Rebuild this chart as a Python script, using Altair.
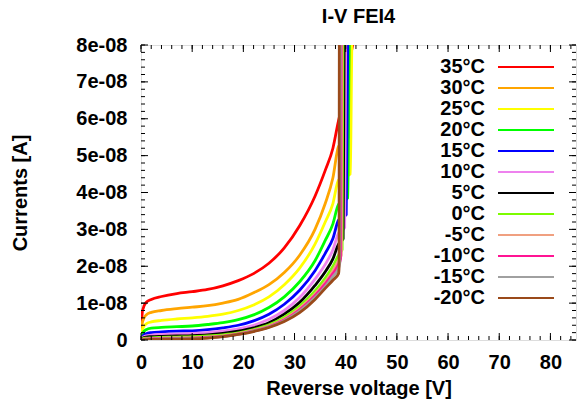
import altair as alt
import pandas as pd

# ---------------- data ----------------
temps = ["35°C", "30°C", "25°C", "20°C", "15°C", "10°C", "5°C", "0°C",
         "-5°C", "-10°C", "-15°C", "-20°C"]
colors = ["#ff0000", "#ffa500", "#ffff00", "#00ff00", "#0000ff", "#ee82ee",
          "#000000", "#7cfc00", "#f0a080", "#ff1493", "#a0a0a0", "#9a4a1a"]

# reverse voltage sweep below breakdown [V]
voltages = [0, 0.3, 1, 2, 4, 7, 10, 13, 16, 19, 22, 25, 28, 31, 34, 36, 37.5, 38.6]

# currents in units of 1e-8 A, one list per temperature
i_35 = [0.05, 0.80, 1.02, 1.10, 1.18, 1.26, 1.31, 1.37, 1.47, 1.61, 1.80, 2.08, 2.50, 3.10, 3.90, 4.60, 5.20, 5.95]
i_30 = [0.05, 0.50, 0.68, 0.75, 0.80, 0.85, 0.89, 0.93, 1.00, 1.10, 1.28, 1.50, 1.83, 2.30, 3.00, 3.70, 4.40, 5.25]
i_25 = [0.03, 0.30, 0.44, 0.49, 0.53, 0.57, 0.60, 0.64, 0.70, 0.80, 0.95, 1.17, 1.50, 1.95, 2.60, 3.20, 3.70, 4.34]
i_20 = [0.02, 0.18, 0.28, 0.32, 0.34, 0.36, 0.38, 0.42, 0.47, 0.55, 0.68, 0.88, 1.17, 1.58, 2.15, 2.70, 3.15, 3.68]
i_15 = [0.02, 0.10, 0.17, 0.20, 0.22, 0.24, 0.25, 0.28, 0.33, 0.40, 0.52, 0.70, 0.97, 1.35, 1.88, 2.35, 2.75, 3.25]
i_10 = [0.01, 0.07, 0.11, 0.13, 0.15, 0.16, 0.18, 0.20, 0.24, 0.30, 0.40, 0.56, 0.80, 1.15, 1.65, 2.05, 2.45, 2.90]
i_5 = [0.01, 0.05, 0.08, 0.09, 0.10, 0.11, 0.12, 0.14, 0.18, 0.24, 0.33, 0.47, 0.70, 1.02, 1.48, 1.85, 2.20, 2.60]
i_0 = [0.01, 0.03, 0.05, 0.06, 0.07, 0.08, 0.09, 0.11, 0.14, 0.19, 0.28, 0.41, 0.62, 0.92, 1.33, 1.68, 2.00, 2.30]
i_m5 = [0.00, 0.02, 0.03, 0.04, 0.05, 0.055, 0.06, 0.08, 0.11, 0.17, 0.26, 0.38, 0.57, 0.86, 1.25, 1.58, 1.88, 2.15]
i_m10 = [0.00, 0.015, 0.025, 0.03, 0.04, 0.045, 0.05, 0.07, 0.10, 0.16, 0.25, 0.36, 0.54, 0.82, 1.20, 1.52, 1.80, 2.05]
i_m15 = [0.00, 0.01, 0.02, 0.025, 0.03, 0.035, 0.04, 0.06, 0.09, 0.15, 0.24, 0.35, 0.52, 0.78, 1.15, 1.45, 1.72, 1.95]
i_m20 = [0.00, 0.005, 0.01, 0.015, 0.02, 0.025, 0.03, 0.05, 0.09, 0.15, 0.23, 0.34, 0.50, 0.74, 1.10, 1.40, 1.62, 1.80]
currents = [i_35, i_30, i_25, i_20, i_15, i_10, i_5, i_0, i_m5, i_m10, i_m15, i_m20]

# breakdown points after the knee: voltages [V] and currents (1e-8 A), per curve
bd_v = [[39.4, 40.8, 42.3], [40.6, 41.0, 41.8], [40.9, 41.2, 41.5], [40.4, 40.7, 41.0],
        [40.1, 40.4, 40.7], [39.8, 40.0, 40.3], [39.5, 39.7, 39.9], [39.3, 39.45, 39.6],
        [39.15, 39.25, 39.4], [39.0, 39.1, 39.2], [38.85, 38.95, 39.05], [38.7, 38.75, 38.85]]
bd_i = [[6.4, 7.6, 8.6], [5.5, 7.8, 9.0], [4.5, 8.0, 9.0], [3.85, 8.0, 9.0],
        [3.4, 8.0, 9.0], [3.05, 8.0, 9.0], [2.75, 8.0, 9.0], [2.45, 8.0, 9.0],
        [2.3, 8.0, 9.0], [2.2, 8.0, 9.0], [2.1, 8.0, 9.0], [1.95, 8.0, 9.0]]

x_major = [0, 10, 20, 30, 40, 50, 60, 70, 80]
x_minor = [0, 2, 4, 6, 8, 10, 12, 14, 16, 18, 20, 22, 24, 26, 28, 30, 32, 34, 36, 38, 40,
           42, 44, 46, 48, 50, 52, 54, 56, 58, 60, 62, 64, 66, 68, 70, 72, 74, 76, 78, 80, 82, 84]
y_major_e8 = [0, 1, 2, 3, 4, 5, 6, 7, 8]
y_minor_e8 = [k / 5 for k in range(0, 41)]

# ---------------- tables ----------------
rows = []
for t, cur, bv, bi in zip(temps, currents, bd_v, bd_i):
    k = 0
    for v, i in list(zip(voltages, cur)) + list(zip(bv, bi)):
        rows.append({"V": v, "I": i * 1e-8, "T": t, "k": k})
        k += 1
df = pd.DataFrame(rows)
leg = pd.DataFrame({"T": temps})

W, H = 435, 295
FONT = "Liberation Sans"

xs = alt.Scale(domain=[0, 85], nice=False, zero=False)
ys = alt.Scale(domain=[0, 8e-8], nice=False)
cs = alt.Scale(domain=temps, range=colors)

x_axis = alt.Axis(
    values=x_major, title="Reverse voltage [V]", grid=False, ticks=False, tickSize=0,
    domain=False, labelFont=FONT, labelFontSize=20, labelFontWeight="bold",
    labelColor="black", labelPadding=12, labelFlush=False,
    titleFont=FONT, titleFontSize=20, titleFontWeight="bold", titleColor="black",
    titleX=W / 2, titleY=48, titleBaseline="middle", titleAlign="center")
y_axis = alt.Axis(
    values=[v * 1e-8 for v in y_major_e8], title="Currents [A]", grid=False,
    ticks=False, tickSize=0, domain=False,
    labelExpr="datum.value == 0 ? '0' : round(datum.value * 1e8) + 'e-08'",
    labelFont=FONT, labelFontSize=20, labelFontWeight="bold", labelColor="black",
    labelPadding=14, labelFlush=False,
    titleFont=FONT, titleFontSize=20, titleFontWeight="bold", titleColor="black",
    titleX=-121, titleY=H / 2, titleAngle=270, titleBaseline="middle",
    titleAlign="center")

lines = alt.Chart(df).mark_line(clip=True, strokeWidth=2.8, interpolate="monotone").encode(
    x=alt.X("V:Q", scale=xs, axis=x_axis),
    y=alt.Y("I:Q", scale=ys, axis=y_axis),
    color=alt.Color("T:N", scale=cs, sort=temps, legend=None),
    order="k:Q",
)


def tick_layer(vals, chan, length, side):
    d = pd.DataFrame({chan: vals})
    if chan == "V":
        enc = {"x": alt.X("V:Q", scale=xs, axis=x_axis)}
        if side == "bottom":
            enc.update(y=alt.value(H), y2=alt.value(H - length))
        else:
            enc.update(y=alt.value(0), y2=alt.value(length))
    else:
        enc = {"y": alt.Y("I:Q", scale=ys, axis=y_axis)}
        if side == "left":
            enc.update(x=alt.value(0), x2=alt.value(length))
        else:
            enc.update(x=alt.value(W), x2=alt.value(W - length))
    return alt.Chart(d).mark_rule(color="black", strokeWidth=1).encode(**enc)


xmaj = x_major
xmin = x_minor
ymaj = [v * 1e-8 for v in y_major_e8]
ymin = [v * 1e-8 for v in y_minor_e8]

ticks = [
    tick_layer(xmin, "V", 4, "bottom"), tick_layer(xmin, "V", 4, "top"),
    tick_layer(xmaj, "V", 7, "bottom"), tick_layer(xmaj, "V", 7, "top"),
    tick_layer(ymin, "I", 4, "left"), tick_layer(ymin, "I", 4, "right"),
    tick_layer(ymaj, "I", 7, "left"), tick_layer(ymaj, "I", 7, "right"),
]

main = alt.layer(lines, *ticks)

# gnuplot-style key: right-aligned label, line sample to its right
ly = alt.Y("T:N", sort=temps,
           scale=alt.Scale(type="point", domain=temps, range=[22, 253], padding=0),
           axis=None)
leg_text = alt.Chart(leg).mark_text(
    align="right", baseline="middle", font=FONT, fontSize=20, fontWeight="bold",
    color="black").encode(x=alt.value(344), y=ly, text="T:N")
leg_line = alt.Chart(leg).mark_rule(strokeWidth=2).encode(
    x=alt.value(357), x2=alt.value(413), y=ly,
    color=alt.Color("T:N", scale=cs, sort=temps, legend=None))
legend = alt.layer(leg_line, leg_text)

chart = alt.layer(main, legend).resolve_scale(y="independent").properties(
    width=W, height=H,
    autosize=alt.AutoSizeParams(type="none"),
    padding={"left": 141, "top": 45, "right": 1, "bottom": 68},
    title=alt.TitleParams("I-V FEI4", font=FONT, fontSize=20, fontWeight="bold",
                          color="black", anchor="middle", frame="group", offset=18,
                          dy=10),
).configure_view(stroke="black", strokeWidth=1).configure(background="white")

chart.save("out.html", embed_options={"renderer": "svg", "actions": False})
